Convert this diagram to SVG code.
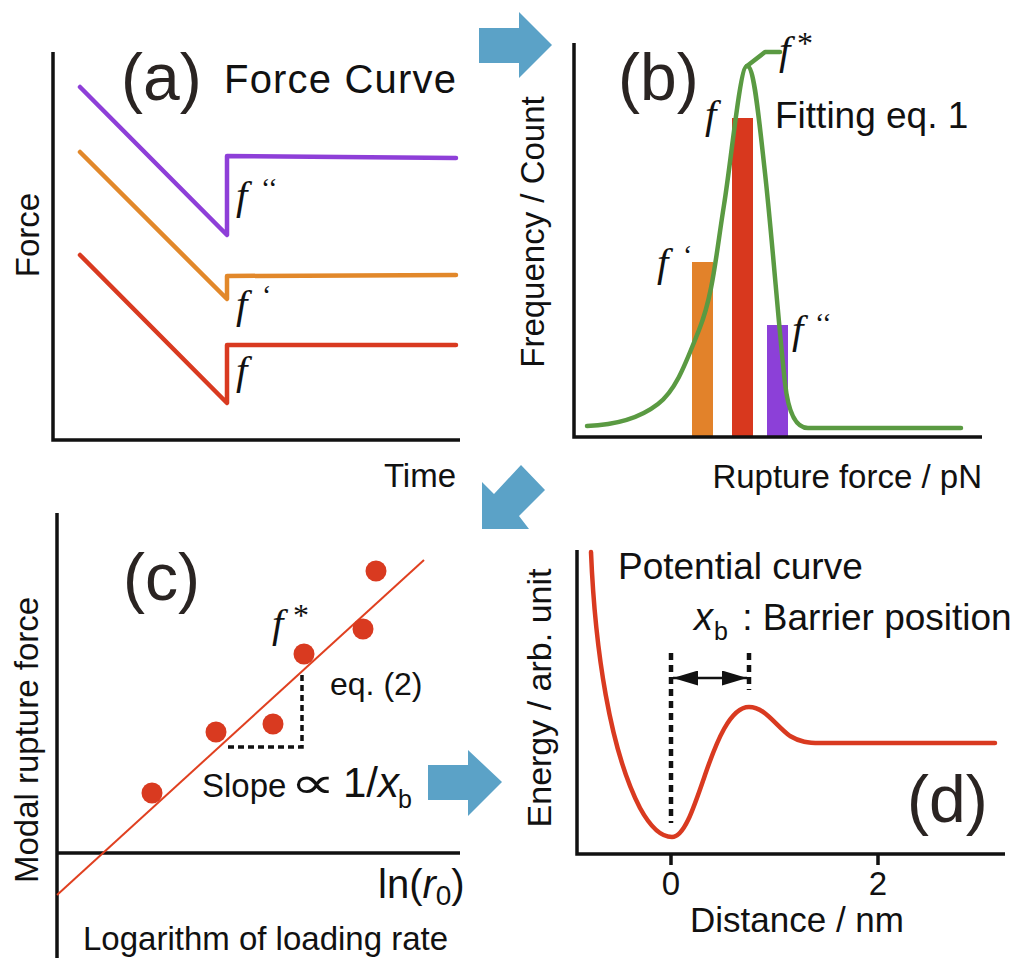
<svg xmlns="http://www.w3.org/2000/svg" width="1024" height="972" viewBox="0 0 1024 972">
<defs>
<style>
.t{font-family:"Liberation Sans",Arial,sans-serif;fill:#111}
.lbl{font-family:"Liberation Sans",Arial,sans-serif;fill:#2a2422;font-size:66px}
.fi{font-family:"Liberation Serif","Times New Roman",serif;font-style:italic;fill:#111;font-size:41px}
.pr{font-family:"Liberation Serif","Times New Roman",serif;fill:#111;font-size:28px}
.st{font-family:"Liberation Serif","Times New Roman",serif;fill:#111;font-size:32px}
.ax{fill:none;stroke:#111;stroke-width:3.5}
.cv{fill:none;stroke-width:4.5;stroke-linejoin:round;stroke-linecap:round}
.blue{fill:#5ba2c7}
.dot{fill:#d93a20}
</style>
<marker id="ah" viewBox="0 0 10 10" refX="10" refY="5" markerWidth="10" markerHeight="6" markerUnits="strokeWidth" orient="auto-start-reverse" preserveAspectRatio="none">
<path d="M0,0 L10,5 L0,10 z" fill="#111"/>
</marker>
</defs>
<rect width="1024" height="972" fill="#fff"/>

<g id="panel-a">
<path class="ax" d="M53,52 V440 H460"/>
<path class="cv" stroke="#8e3fd8" d="M80,87 L227,235 L227,156 L456,158"/>
<path class="cv" stroke="#e2882a" d="M80,152 L227,299 L227,276 L456,275"/>
<path class="cv" stroke="#d93a20" d="M80,255 L227,403 L227,345 L456,345"/>
<text class="lbl" x="121" y="100">(a)</text>
<text class="t" x="224" y="93" font-size="40" textLength="232" lengthAdjust="spacing">Force Curve</text>
<text class="t" font-size="33" text-anchor="middle" transform="translate(39,235) rotate(-90)">Force</text>
<text class="t" x="456" y="487" font-size="33" text-anchor="end">Time</text>
<text class="fi" x="236" y="209">f<tspan class="pr" x="261" y="197" font-style="normal">‘‘</tspan></text>
<text class="fi" x="236" y="318">f<tspan class="pr" x="262" y="304" font-style="normal">‘</tspan></text>
<text class="fi" x="236" y="384">f</text>
</g>

<g id="panel-b">
<rect x="692" y="262" width="21" height="175" fill="#e2822a"/>
<rect x="732" y="118" width="21" height="319" fill="#d8381e"/>
<rect x="767" y="325" width="21" height="112" fill="#8c40d8"/>
<path class="ax" d="M574,43 V437 H982"/>
<path class="cv" stroke="#5a9a42" d="M587,426 C615,425 640,418 658,404 S685,365 699,330 S716,255 724,205 C732,155 740,66 747,66 C754,66 758,110 765,173 C772,236 779,330 785,383 C788,410 795,428 808,428 L961,428"/>
<path class="cv" stroke="#5a9a42" stroke-width="4" d="M747,66 L765,52 L780,52"/>
<text class="lbl" x="618" y="100">(b)</text>
<text class="t" x="775" y="128" font-size="37">Fitting eq. 1</text>
<text class="t" font-size="33" text-anchor="middle" transform="translate(544,232) rotate(-90)">Frequency / Count</text>
<text class="t" x="982" y="488" font-size="33" text-anchor="end">Rupture force / pN</text>
<text class="fi" x="779" y="64">f<tspan class="st" x="797" y="54" font-style="normal">*</tspan></text>
<text class="fi" x="705" y="128">f</text>
<text class="fi" x="657" y="276">f<tspan class="pr" x="683" y="264" font-style="normal">‘</tspan></text>
<text class="fi" x="792" y="343">f<tspan class="pr" x="815" y="332" font-style="normal">‘‘</tspan></text>
</g>

<g id="panel-c">
<path class="ax" d="M57,513 V958"/>
<path class="ax" d="M57,853 H460"/>
<path fill="none" stroke="#e04020" stroke-width="2" d="M57,895 L424,560"/>
<path fill="none" stroke="#111" stroke-width="3.5" stroke-dasharray="6,4" d="M228,747 H302 V672"/>
<circle class="dot" cx="152" cy="793" r="10.5"/>
<circle class="dot" cx="216" cy="732" r="10.5"/>
<circle class="dot" cx="273" cy="724" r="10.5"/>
<circle class="dot" cx="304" cy="654" r="10.5"/>
<circle class="dot" cx="363" cy="629" r="10.5"/>
<circle class="dot" cx="376" cy="571" r="10.5"/>
<text class="lbl" x="123" y="600" font-size="64">(c)</text>
<text class="fi" x="272" y="637">f<tspan class="st" x="293" y="626" font-style="normal">*</tspan></text>
<text class="t" x="330" y="695" font-size="32">eq. (2)</text>
<text class="t" x="202" y="797" font-size="33">Slope<tspan x="343" font-size="42">1/</tspan><tspan font-size="42" font-style="italic">x</tspan><tspan x="398" y="808" font-size="25">b</tspan></text>
<text transform="translate(290,798) scale(1.45,1)" font-family="'DejaVu Sans',sans-serif" font-weight="200" font-size="44" fill="#111">∝</text>
<text class="t" x="378" y="898" font-size="40">ln(<tspan font-style="italic">r</tspan><tspan y="905" font-size="28">0</tspan><tspan y="898">)</tspan></text>
<text class="t" x="83" y="950" font-size="33">Logarithm of loading rate</text>
<text class="t" font-size="33" text-anchor="middle" transform="translate(38,740) rotate(-90)">Modal rupture force</text>
</g>

<g id="panel-d">
<path class="ax" d="M577,550 V854 H1005"/>
<path class="ax" d="M671,854 V865 M878,854 V865"/>
<path fill="none" stroke="#111" stroke-width="4.5" stroke-dasharray="7,5" d="M671,653 V823 M749,653 V690"/>
<path fill="none" stroke="#111" stroke-width="2.5" marker-start="url(#ah)" marker-end="url(#ah)" d="M673,678 H747"/>
<path class="cv" stroke="#d93a20" d="M591,552 C595,650 610,750 640,808 C652,830 663,837 672,837 C684,837 693,810 705,775 C716,743 730,707 749,707 C765,707 775,725 790,736 C800,742 808,743 820,743 L995,743"/>
<text class="t" x="618" y="579" font-size="37">Potential curve</text>
<text class="t" x="694" y="630" font-size="37"><tspan font-style="italic" font-size="38">x</tspan><tspan x="714" y="640" font-size="25">b</tspan><tspan x="732" y="630"> : Barrier position</tspan></text>
<text class="lbl" x="907" y="822" font-size="64">(d)</text>
<text class="t" x="671" y="895" font-size="33" text-anchor="middle">0</text>
<text class="t" x="878" y="895" font-size="33" text-anchor="middle">2</text>
<text class="t" x="797" y="932" font-size="35" text-anchor="middle">Distance / nm</text>
<text class="t" font-size="34" text-anchor="middle" transform="translate(551,698) rotate(-90)">Energy / arb. unit</text>
</g>

<g id="connectors">
<polygon class="blue" points="479,28 519,28 519,12 552,45 519,78 519,63 479,63"/>
<polygon class="blue" points="521,465 545,490 519,516 529,529 482,529 482,482 494,494"/>
<polygon class="blue" points="428,765 468,765 468,750 502,782 468,816 468,800 428,800"/>
</g>
</svg>
